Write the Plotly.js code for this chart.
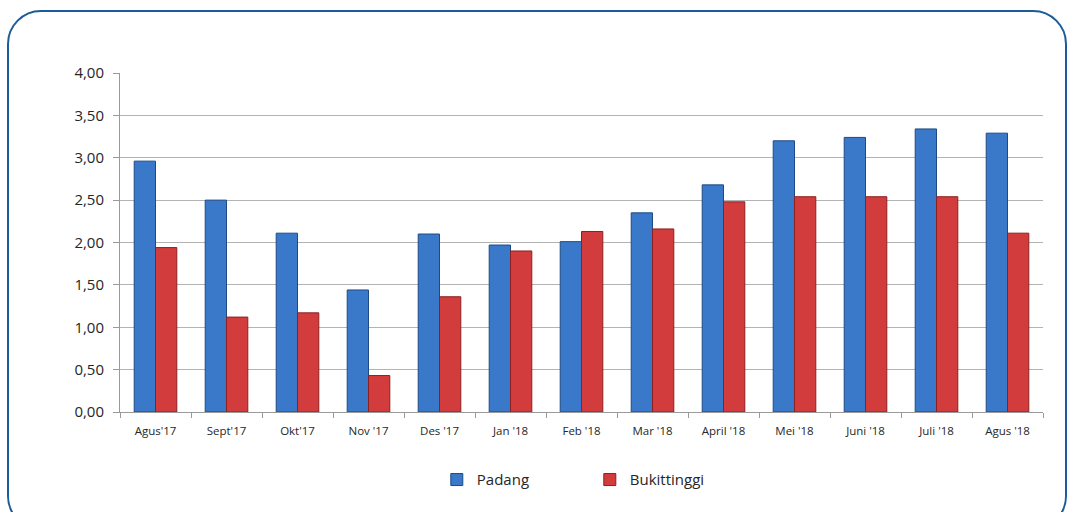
<!DOCTYPE html>
<html>
<head>
<meta charset="utf-8">
<script src="https://cdn.plot.ly/plotly-3.0.1.min.js"></script>
<style>
  html, body { margin: 0; padding: 0; background: #ffffff; }
  #wrap { position: relative; width: 1070px; height: 512px; overflow: hidden; }
  #frame { position: absolute; left: 7px; top: 10px; width: 1060px; height: 520px;
           border: 2.5px solid #1b5c9a; border-radius: 34px; box-sizing: border-box; }
  #chart { position: absolute; left: 0; top: 0; width: 1070px; height: 512px; }
</style>
</head>
<body>
<div id="wrap">
  <div id="frame"></div>
  <div id="chart"></div>
</div>
<script>
const categories = ["Agus'17", "Sept'17", "Okt'17", "Nov '17", "Des '17", "Jan '18", "Feb '18",
                    "Mar '18", "April '18", "Mei '18", "Juni '18", "Juli '18", "Agus '18"];
const padang = [2.96, 2.50, 2.11, 1.44, 2.10, 1.97, 2.01, 2.35, 2.68, 3.20, 3.24, 3.34, 3.29];
const bukittinggi = [1.94, 1.12, 1.17, 0.43, 1.36, 1.90, 2.13, 2.16, 2.48, 2.54, 2.54, 2.54, 2.11];
const yTicks = [0, 0.5, 1, 1.5, 2, 2.5, 3, 3.5, 4];

const traces = [
  { type: 'bar', name: 'Padang', x: categories, y: padang,
    marker: { color: '#3a78c9', line: { color: '#1d4a85', width: 1 } } },
  { type: 'bar', name: 'Bukittinggi', x: categories, y: bukittinggi,
    marker: { color: '#d23c3c', line: { color: '#8c2020', width: 1 } } }
];

const layout = {
  width: 1070, height: 512,
  paper_bgcolor: 'rgba(0,0,0,0)', plot_bgcolor: 'rgba(0,0,0,0)',
  margin: { l: 120, r: 27, t: 73, b: 100 },
  separators: ',.',
  barmode: 'group', bargap: 0.4, bargroupgap: 0,
  font: { family: 'Open Sans, Liberation Sans, sans-serif', color: '#262626' },
  xaxis: {
    type: 'category', tickson: 'boundaries', ticks: 'outside', ticklen: 5,
    tickcolor: '#9a9a9a', showline: true, linecolor: '#9a9a9a', linewidth: 1,
    showgrid: false, tickfont: { size: 11.5, color: '#262626' }, tickangle: 0,
    ticklabelstandoff: 8
  },
  yaxis: {
    range: [0, 4], tickvals: yTicks, tickformat: '.2f', ticks: 'outside', ticklen: 6,
    tickcolor: '#9a9a9a', showline: true, linecolor: '#9a9a9a', linewidth: 1,
    gridcolor: '#b3b3b3', gridwidth: 1, zeroline: false,
    tickfont: { size: 15, color: '#262626' }, ticklabelstandoff: 6
  },
  showlegend: true,
  legend: {
    orientation: 'h', x: 0.509, xanchor: 'center', y: -0.2, yanchor: 'middle',
    font: { size: 15, color: '#262626' }, entrywidth: 108, itemwidth: 30
  }
};

Plotly.newPlot('chart', traces, layout, { displayModeBar: false, staticPlot: true });
</script>
</body>
</html>
